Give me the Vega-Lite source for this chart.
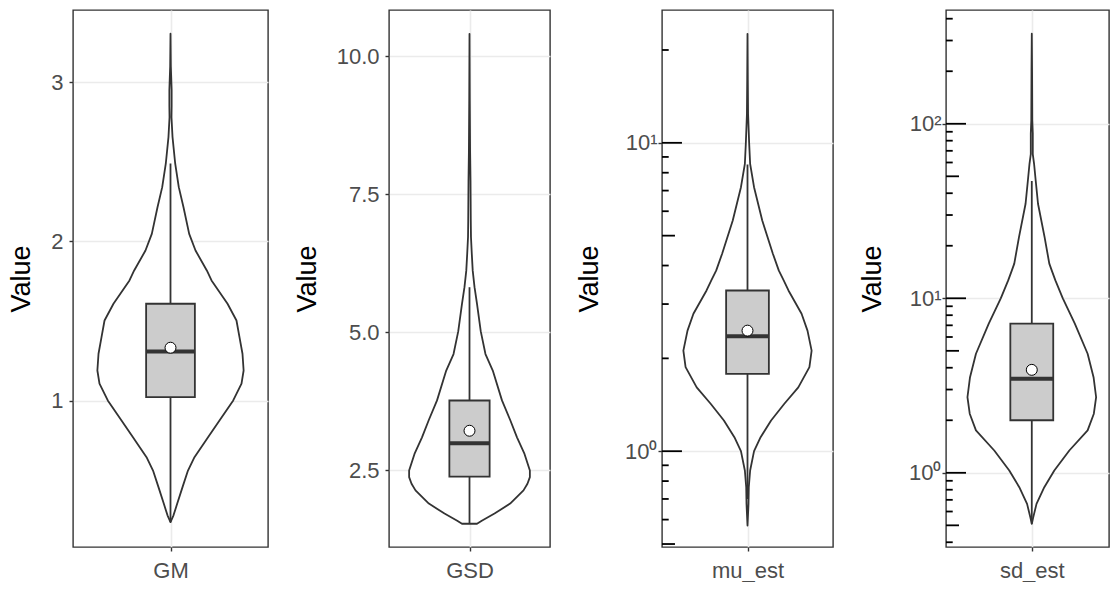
{
  "$schema": "https://vega.github.io/schema/vega-lite/v6.json",
  "padding": {"left": 7, "top": 9, "right": 0, "bottom": 0},
  "spacing": 23,
  "config": {
    "font": "Liberation Sans",
    "view": {"stroke": "#333333", "strokeWidth": 1.4},
    "axis": {
      "domain": false, "grid": true, "gridColor": "#EBEBEB", "gridWidth": 1.6,
      "tickColor": "#333333", "tickSize": 4, "tickWidth": 1.4,
      "labelFont": "Liberation Sans", "labelFontSize": 22, "labelColor": "#4D4D4D",
      "titleFont": "Liberation Sans", "titleFontSize": 27, "titleFontWeight": "normal", "titleColor": "#000000"
    },
    "axisX": {"labelPadding": 9},
    "axisY": {"labelPadding": 6}
  },
  "datasets": {
    "violin": [
      {"var":"GM","v":3.304,"w":0},{"var":"GM","v":3.10,"w":0.004},{"var":"GM","v":2.95,"w":0.014},{"var":"GM","v":2.85,"w":0.014},{"var":"GM","v":2.78,"w":0.012},{"var":"GM","v":2.655,"w":0.025},{"var":"GM","v":2.488,"w":0.058},{"var":"GM","v":2.341,"w":0.102},{"var":"GM","v":2.215,"w":0.16},{"var":"GM","v":2.048,"w":0.23},{"var":"GM","v":1.943,"w":0.308},{"var":"GM","v":1.818,"w":0.447},{"var":"GM","v":1.755,"w":0.505},{"var":"GM","v":1.609,"w":0.702},{"var":"GM","v":1.504,"w":0.812},{"var":"GM","v":1.399,"w":0.849},{"var":"GM","v":1.295,"w":0.886},{"var":"GM","v":1.19,"w":0.9},{"var":"GM","v":1.107,"w":0.874},{"var":"GM","v":1.002,"w":0.772},{"var":"GM","v":0.876,"w":0.603},{"var":"GM","v":0.771,"w":0.462},{"var":"GM","v":0.646,"w":0.295},{"var":"GM","v":0.562,"w":0.215},{"var":"GM","v":0.458,"w":0.148},{"var":"GM","v":0.353,"w":0.082},{"var":"GM","v":0.281,"w":0.037},{"var":"GM","v":0.238,"w":0},
      {"var":"GSD","v":10.41,"w":0},{"var":"GSD","v":9.2,"w":0.004},{"var":"GSD","v":8.27,"w":0.009},{"var":"GSD","v":7.75,"w":0.015},{"var":"GSD","v":7.03,"w":0.019},{"var":"GSD","v":6.73,"w":0.022},{"var":"GSD","v":6.43,"w":0.034},{"var":"GSD","v":6.12,"w":0.048},{"var":"GSD","v":5.82,"w":0.075},{"var":"GSD","v":5.52,"w":0.112},{"var":"GSD","v":5.02,"w":0.168},{"var":"GSD","v":4.61,"w":0.238},{"var":"GSD","v":4.31,"w":0.347},{"var":"GSD","v":3.77,"w":0.484},{"var":"GSD","v":3.41,"w":0.608},{"var":"GSD","v":3.1,"w":0.708},{"var":"GSD","v":2.8,"w":0.82},{"var":"GSD","v":2.5,"w":0.9},{"var":"GSD","v":2.38,"w":0.9},{"var":"GSD","v":2.26,"w":0.864},{"var":"GSD","v":2.14,"w":0.805},{"var":"GSD","v":1.9,"w":0.606},{"var":"GSD","v":1.72,"w":0.373},{"var":"GSD","v":1.59,"w":0.183},{"var":"GSD","v":1.535,"w":0.112},
      {"var":"mu_est","v":22.57,"w":0},{"var":"mu_est","v":16,"w":0.004},{"var":"mu_est","v":12.4,"w":0.008},{"var":"mu_est","v":10,"w":0.023},{"var":"mu_est","v":8.55,"w":0.037},{"var":"mu_est","v":7.18,"w":0.092},{"var":"mu_est","v":5.6,"w":0.207},{"var":"mu_est","v":4.37,"w":0.356},{"var":"mu_est","v":3.85,"w":0.44},{"var":"mu_est","v":3.58,"w":0.508},{"var":"mu_est","v":3.32,"w":0.575},{"var":"mu_est","v":2.79,"w":0.759},{"var":"mu_est","v":2.46,"w":0.842},{"var":"mu_est","v":2.12,"w":0.9},{"var":"mu_est","v":1.873,"w":0.869},{"var":"mu_est","v":1.61,"w":0.713},{"var":"mu_est","v":1.425,"w":0.517},{"var":"mu_est","v":1.258,"w":0.331},{"var":"mu_est","v":1.11,"w":0.184},{"var":"mu_est","v":1.0,"w":0.092},{"var":"mu_est","v":0.866,"w":0.037},{"var":"mu_est","v":0.764,"w":0.018},{"var":"mu_est","v":0.675,"w":0.014},{"var":"mu_est","v":0.574,"w":0},
      {"var":"sd_est","v":328,"w":0},{"var":"sd_est","v":200,"w":0.004},{"var":"sd_est","v":104.5,"w":0.007},{"var":"sd_est","v":88,"w":0.014},{"var":"sd_est","v":67,"w":0.014},{"var":"sd_est","v":59,"w":0.032},{"var":"sd_est","v":46.7,"w":0.056},{"var":"sd_est","v":34.8,"w":0.087},{"var":"sd_est","v":22.4,"w":0.179},{"var":"sd_est","v":15.8,"w":0.245},{"var":"sd_est","v":14.4,"w":0.28},{"var":"sd_est","v":12.66,"w":0.33},{"var":"sd_est","v":10,"w":0.434},{"var":"sd_est","v":7.15,"w":0.602},{"var":"sd_est","v":4.81,"w":0.781},{"var":"sd_est","v":3.53,"w":0.864},{"var":"sd_est","v":2.71,"w":0.9},{"var":"sd_est","v":2.18,"w":0.868},{"var":"sd_est","v":1.75,"w":0.781},{"var":"sd_est","v":1.342,"w":0.525},{"var":"sd_est","v":1.03,"w":0.315},{"var":"sd_est","v":0.827,"w":0.175},{"var":"sd_est","v":0.664,"w":0.066},{"var":"sd_est","v":0.557,"w":0.021},{"var":"sd_est","v":0.51,"w":0}
    ],
    "box": [
      {"var":"GM","lo":0.238,"q1":1.023,"med":1.309,"q3":1.609,"hi":2.49,"mean":1.333},
      {"var":"GSD","lo":1.535,"q1":2.39,"med":2.995,"q3":3.768,"hi":5.82,"mean":3.22},
      {"var":"mu_est","lo":0.70,"q1":1.78,"med":2.36,"q3":3.32,"hi":8.5,"mean":2.46},
      {"var":"sd_est","lo":0.51,"q1":2.0,"med":3.46,"q3":7.15,"hi":47,"mean":3.89}
    ],
    "logticks": [
      {"var":"mu_est","v":0.5,"kind":"mid"},{"var":"mu_est","v":0.6,"kind":"short"},{"var":"mu_est","v":0.7,"kind":"short"},{"var":"mu_est","v":0.8,"kind":"short"},{"var":"mu_est","v":0.9,"kind":"short"},{"var":"mu_est","v":1,"kind":"long"},{"var":"mu_est","v":2,"kind":"short"},{"var":"mu_est","v":3,"kind":"short"},{"var":"mu_est","v":4,"kind":"short"},{"var":"mu_est","v":5,"kind":"mid"},{"var":"mu_est","v":6,"kind":"short"},{"var":"mu_est","v":7,"kind":"short"},{"var":"mu_est","v":8,"kind":"short"},{"var":"mu_est","v":9,"kind":"short"},{"var":"mu_est","v":10,"kind":"long"},{"var":"mu_est","v":20,"kind":"short"},
      {"var":"sd_est","v":0.4,"kind":"short"},{"var":"sd_est","v":0.5,"kind":"mid"},{"var":"sd_est","v":0.6,"kind":"short"},{"var":"sd_est","v":0.7,"kind":"short"},{"var":"sd_est","v":0.8,"kind":"short"},{"var":"sd_est","v":0.9,"kind":"short"},{"var":"sd_est","v":1,"kind":"long"},{"var":"sd_est","v":2,"kind":"short"},{"var":"sd_est","v":3,"kind":"short"},{"var":"sd_est","v":4,"kind":"short"},{"var":"sd_est","v":5,"kind":"mid"},{"var":"sd_est","v":6,"kind":"short"},{"var":"sd_est","v":7,"kind":"short"},{"var":"sd_est","v":8,"kind":"short"},{"var":"sd_est","v":9,"kind":"short"},{"var":"sd_est","v":10,"kind":"long"},{"var":"sd_est","v":20,"kind":"short"},{"var":"sd_est","v":30,"kind":"short"},{"var":"sd_est","v":40,"kind":"short"},{"var":"sd_est","v":50,"kind":"mid"},{"var":"sd_est","v":60,"kind":"short"},{"var":"sd_est","v":70,"kind":"short"},{"var":"sd_est","v":80,"kind":"short"},{"var":"sd_est","v":90,"kind":"short"},{"var":"sd_est","v":100,"kind":"long"},{"var":"sd_est","v":200,"kind":"short"},{"var":"sd_est","v":300,"kind":"short"},{"var":"sd_est","v":400,"kind":"short"}
    ]
  },
  "hconcat": [
    {
      "width": 195, "height": 537,
      "layer": [
        {
          "data": {"name": "violin"},
          "transform": [{"filter": "datum.var === 'GM'"}],
          "mark": {"type": "area", "orient": "horizontal", "fill": "white", "stroke": "#333333", "strokeWidth": 1.8, "strokeJoin": "round"},
          "encoding": {
            "y": {"field": "v", "type": "quantitative", "scale": {"domain": [0.082, 3.453], "nice": false, "zero": false}, "axis": {"title": "Value", "values": [1, 2, 3], "format": "d", "titlePadding": 15}},
            "x": {"field": "w", "type": "quantitative", "stack": "center", "scale": {"domain": [-0.15, 1.05], "nice": false, "zero": false}, "axis": {"title": null, "values": [0.45], "labelExpr": "'GM'"}}
          }
        },
        {
          "data": {"name": "box"},
          "transform": [{"filter": "datum.var === 'GM'"}],
          "layer": [
            {"mark": {"type": "rule", "stroke": "#333333", "strokeWidth": 1.8},
             "encoding": {"x": {"datum": 0.45, "type": "quantitative"},
                          "y": {"field": "lo", "type": "quantitative"}, "y2": {"field": "hi"}}},
            {"mark": {"type": "rect", "fill": "#CCCCCC", "stroke": "#333333", "strokeWidth": 1.8},
             "encoding": {"x": {"datum": 0.3, "type": "quantitative"}, "x2": {"datum": 0.6},
                          "y": {"field": "q1", "type": "quantitative"}, "y2": {"field": "q3"}}},
            {"mark": {"type": "rule", "stroke": "#333333", "strokeWidth": 4},
             "encoding": {"x": {"datum": 0.3, "type": "quantitative"}, "x2": {"datum": 0.6},
                          "y": {"field": "med", "type": "quantitative"}}},
            {"mark": {"type": "point", "shape": "circle", "filled": true, "fill": "white", "stroke": "black", "strokeWidth": 1, "size": 120, "opacity": 1},
             "encoding": {"x": {"datum": 0.45, "type": "quantitative"},
                          "y": {"field": "mean", "type": "quantitative"}}}
          ]
        }
      ]
    },
    {
      "width": 161, "height": 537,
      "layer": [
        {
          "data": {"name": "violin"},
          "transform": [{"filter": "datum.var === 'GSD'"}],
          "mark": {"type": "area", "orient": "horizontal", "fill": "white", "stroke": "#333333", "strokeWidth": 1.8, "strokeJoin": "round"},
          "encoding": {
            "y": {"field": "v", "type": "quantitative", "scale": {"domain": [1.114, 10.842], "nice": false, "zero": false}, "axis": {"title": "Value", "values": [2.5, 5, 7.5, 10], "format": ".1f", "titlePadding": 15}},
            "x": {"field": "w", "type": "quantitative", "stack": "center", "scale": {"domain": [-0.15, 1.05], "nice": false, "zero": false}, "axis": {"title": null, "values": [0.45], "labelExpr": "'GSD'"}}
          }
        },
        {
          "data": {"name": "box"},
          "transform": [{"filter": "datum.var === 'GSD'"}],
          "layer": [
            {"mark": {"type": "rule", "stroke": "#333333", "strokeWidth": 1.8},
             "encoding": {"x": {"datum": 0.45, "type": "quantitative"},
                          "y": {"field": "lo", "type": "quantitative"}, "y2": {"field": "hi"}}},
            {"mark": {"type": "rect", "fill": "#CCCCCC", "stroke": "#333333", "strokeWidth": 1.8},
             "encoding": {"x": {"datum": 0.3, "type": "quantitative"}, "x2": {"datum": 0.6},
                          "y": {"field": "q1", "type": "quantitative"}, "y2": {"field": "q3"}}},
            {"mark": {"type": "rule", "stroke": "#333333", "strokeWidth": 4},
             "encoding": {"x": {"datum": 0.3, "type": "quantitative"}, "x2": {"datum": 0.6},
                          "y": {"field": "med", "type": "quantitative"}}},
            {"mark": {"type": "point", "shape": "circle", "filled": true, "fill": "white", "stroke": "black", "strokeWidth": 1, "size": 120, "opacity": 1},
             "encoding": {"x": {"datum": 0.45, "type": "quantitative"},
                          "y": {"field": "mean", "type": "quantitative"}}}
          ]
        }
      ]
    },
    {
      "width": 171, "height": 537,
      "layer": [
        {
          "data": {"name": "violin"},
          "transform": [{"filter": "datum.var === 'mu_est'"}],
          "mark": {"type": "area", "orient": "horizontal", "fill": "white", "stroke": "#333333", "strokeWidth": 1.8, "strokeJoin": "round"},
          "encoding": {
            "y": {"field": "v", "type": "quantitative", "scale": {"type": "log", "domain": [0.489, 26.96], "nice": false}, "axis": {"title": "Value", "values": [1, 10], "labelExpr": "datum.value == 1 ? '10⁰' : '10¹'", "labelPadding": 1, "titlePadding": 21}},
            "x": {"field": "w", "type": "quantitative", "stack": "center", "scale": {"domain": [-0.15, 1.05], "nice": false, "zero": false}, "axis": {"title": null, "values": [0.45], "labelExpr": "'mu_est'"}}
          }
        },
        {
          "data": {"name": "box"},
          "transform": [{"filter": "datum.var === 'mu_est'"}],
          "layer": [
            {"mark": {"type": "rule", "stroke": "#333333", "strokeWidth": 1.8},
             "encoding": {"x": {"datum": 0.45, "type": "quantitative"},
                          "y": {"field": "lo", "type": "quantitative"}, "y2": {"field": "hi"}}},
            {"mark": {"type": "rect", "fill": "#CCCCCC", "stroke": "#333333", "strokeWidth": 1.8},
             "encoding": {"x": {"datum": 0.3, "type": "quantitative"}, "x2": {"datum": 0.6},
                          "y": {"field": "q1", "type": "quantitative"}, "y2": {"field": "q3"}}},
            {"mark": {"type": "rule", "stroke": "#333333", "strokeWidth": 4},
             "encoding": {"x": {"datum": 0.3, "type": "quantitative"}, "x2": {"datum": 0.6},
                          "y": {"field": "med", "type": "quantitative"}}},
            {"mark": {"type": "point", "shape": "circle", "filled": true, "fill": "white", "stroke": "black", "strokeWidth": 1, "size": 120, "opacity": 1},
             "encoding": {"x": {"datum": 0.45, "type": "quantitative"},
                          "y": {"field": "mean", "type": "quantitative"}}}
          ]
        },
        {
          "data": {"name": "logticks"},
          "transform": [{"filter": "datum.var === 'mu_est'"}],
          "layer": [
            {"transform": [{"filter": "datum.kind === 'long'"}],
             "mark": {"type": "rule", "stroke": "black", "strokeWidth": 1.8},
             "encoding": {"x": {"datum": -0.15, "type": "quantitative"}, "x2": {"datum": -0.01},
                          "y": {"field": "v", "type": "quantitative"}}},
            {"transform": [{"filter": "datum.kind === 'mid'"}],
             "mark": {"type": "rule", "stroke": "black", "strokeWidth": 1.8},
             "encoding": {"x": {"datum": -0.15, "type": "quantitative"}, "x2": {"datum": -0.059},
                          "y": {"field": "v", "type": "quantitative"}}},
            {"transform": [{"filter": "datum.kind === 'short'"}],
             "mark": {"type": "rule", "stroke": "black", "strokeWidth": 1.8},
             "encoding": {"x": {"datum": -0.15, "type": "quantitative"}, "x2": {"datum": -0.103},
                          "y": {"field": "v", "type": "quantitative"}}}
          ]
        }
      ]
    },
    {
      "width": 163, "height": 537,
      "layer": [
        {
          "data": {"name": "violin"},
          "transform": [{"filter": "datum.var === 'sd_est'"}],
          "mark": {"type": "area", "orient": "horizontal", "fill": "white", "stroke": "#333333", "strokeWidth": 1.8, "strokeJoin": "round"},
          "encoding": {
            "y": {"field": "v", "type": "quantitative", "scale": {"type": "log", "domain": [0.3757, 448.7], "nice": false}, "axis": {"title": "Value", "values": [1, 10, 100], "labelExpr": "datum.value == 1 ? '10⁰' : datum.value == 10 ? '10¹' : '10²'", "labelPadding": 1, "titlePadding": 22}},
            "x": {"field": "w", "type": "quantitative", "stack": "center", "scale": {"domain": [-0.15, 0.99], "nice": false, "zero": false}, "axis": {"title": null, "values": [0.45], "labelExpr": "'sd_est'"}}
          }
        },
        {
          "data": {"name": "box"},
          "transform": [{"filter": "datum.var === 'sd_est'"}],
          "layer": [
            {"mark": {"type": "rule", "stroke": "#333333", "strokeWidth": 1.8},
             "encoding": {"x": {"datum": 0.45, "type": "quantitative"},
                          "y": {"field": "lo", "type": "quantitative"}, "y2": {"field": "hi"}}},
            {"mark": {"type": "rect", "fill": "#CCCCCC", "stroke": "#333333", "strokeWidth": 1.8},
             "encoding": {"x": {"datum": 0.3, "type": "quantitative"}, "x2": {"datum": 0.6},
                          "y": {"field": "q1", "type": "quantitative"}, "y2": {"field": "q3"}}},
            {"mark": {"type": "rule", "stroke": "#333333", "strokeWidth": 4},
             "encoding": {"x": {"datum": 0.3, "type": "quantitative"}, "x2": {"datum": 0.6},
                          "y": {"field": "med", "type": "quantitative"}}},
            {"mark": {"type": "point", "shape": "circle", "filled": true, "fill": "white", "stroke": "black", "strokeWidth": 1, "size": 120, "opacity": 1},
             "encoding": {"x": {"datum": 0.45, "type": "quantitative"},
                          "y": {"field": "mean", "type": "quantitative"}}}
          ]
        },
        {
          "data": {"name": "logticks"},
          "transform": [{"filter": "datum.var === 'sd_est'"}],
          "layer": [
            {"transform": [{"filter": "datum.kind === 'long'"}],
             "mark": {"type": "rule", "stroke": "black", "strokeWidth": 1.8},
             "encoding": {"x": {"datum": -0.15, "type": "quantitative"}, "x2": {"datum": -0.01},
                          "y": {"field": "v", "type": "quantitative"}}},
            {"transform": [{"filter": "datum.kind === 'mid'"}],
             "mark": {"type": "rule", "stroke": "black", "strokeWidth": 1.8},
             "encoding": {"x": {"datum": -0.15, "type": "quantitative"}, "x2": {"datum": -0.059},
                          "y": {"field": "v", "type": "quantitative"}}},
            {"transform": [{"filter": "datum.kind === 'short'"}],
             "mark": {"type": "rule", "stroke": "black", "strokeWidth": 1.8},
             "encoding": {"x": {"datum": -0.15, "type": "quantitative"}, "x2": {"datum": -0.103},
                          "y": {"field": "v", "type": "quantitative"}}}
          ]
        }
      ]
    }
  ]
}
